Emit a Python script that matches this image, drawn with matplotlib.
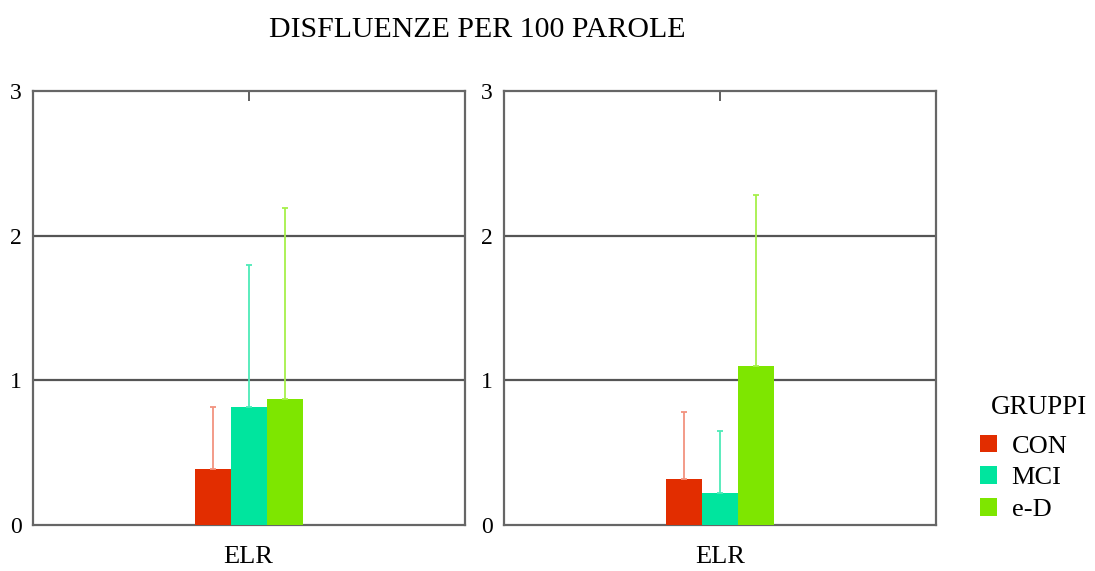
from matplotlib import pyplot as plt
from matplotlib.patches import Patch

plt.rcParams['font.family'] = ['Liberation Serif', 'DejaVu Serif']

# Gruppi e colori
groups = ['CON', 'MCI', 'e-D']
bar_colors = ['#e22d00', '#00e59e', '#7ee600']
err_colors = ['#f2937f', '#4debb8', '#a6f04a']

category = 'ELR'

# Valori (media e limite superiore della barra d'errore)
left_means = [0.385, 0.813, 0.869]
left_upper = [0.813, 1.80, 2.19]
right_means = [0.316, 0.224, 1.10]
right_upper = [0.78, 0.65, 2.28]

y_ticks = [0, 1, 2, 3]

fig = plt.figure(figsize=(10.95, 5.71), dpi=100)

panels = [
    (fig.add_axes([0.0301, 0.0806, 0.3945, 0.760]), left_means, left_upper),
    (fig.add_axes([0.4603, 0.0806, 0.3945, 0.760]), right_means, right_upper),
]

xs = [-1, 0, 1]

for ax, means, upper in panels:
    for x, m, u, c, ec in zip(xs, means, upper, bar_colors, err_colors):
        ax.bar(x, m, width=1.0, color=c, zorder=3)
        ax.errorbar(x, m, yerr=[[0], [u - m]], ecolor=ec, elinewidth=1.3,
                    capsize=2.5, capthick=1.3, fmt='none', zorder=4)
    ax.set_xlim(-5.99, 6.01)
    ax.set_ylim(0, 3)
    ax.set_yticks(y_ticks)
    ax.set_yticklabels([str(t) for t in y_ticks], fontsize=17)
    ax.set_xticks([0])
    ax.set_xticklabels([category], fontsize=19)
    ax.tick_params(axis='y', length=0, pad=8)
    ax.tick_params(axis='x', bottom=False, top=True, labelbottom=True,
                   direction='in', length=7, width=1.2, color='#444444', pad=15)
    for t in [1, 2]:
        ax.axhline(t, color='#555555', linewidth=1.6, zorder=2)
    for s in ax.spines.values():
        s.set_color('#666666')
        s.set_linewidth(1.6)

fig.text(0.436, 0.947, 'DISFLUENZE PER 100 PAROLE', ha='center', va='center', fontsize=21.5)

fig.text(0.905, 0.2855, 'GRUPPI', ha='left', va='center', fontsize=19.5)
handles = [Patch(facecolor=c, edgecolor='none') for c in bar_colors]
fig.legend(handles, groups, loc='upper left', bbox_to_anchor=(0.895, 0.239),
           frameon=False, fontsize=19, borderpad=0, borderaxespad=0,
           handlelength=0.65, handleheight=0.65, handletextpad=0.55,
           labelspacing=0.33)

fig.savefig('out.png', dpi=100)
